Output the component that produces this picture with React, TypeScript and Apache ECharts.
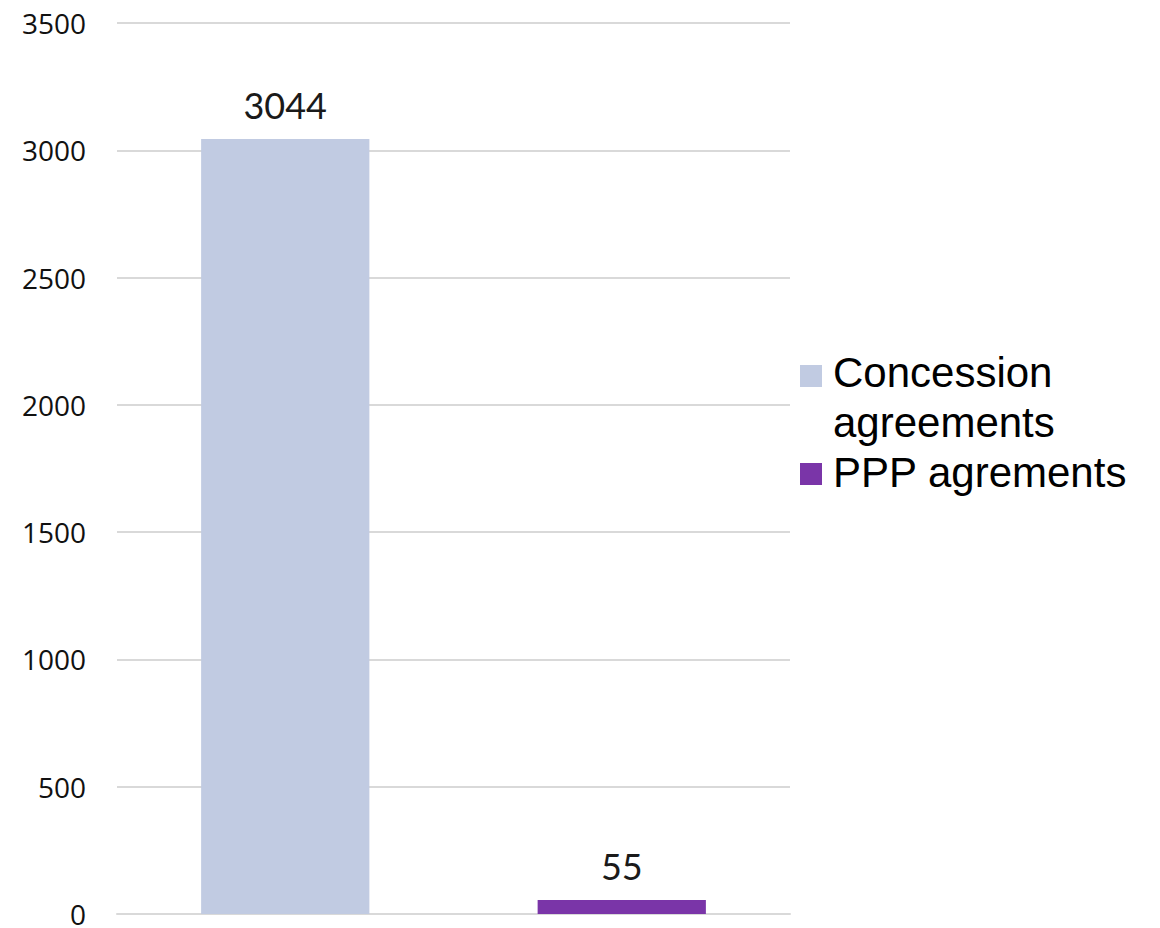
import React, { useEffect, useRef } from "react";
import * as echarts from "echarts";

const categories = ["Concession agreements", "PPP agrements"];
const concessionValues: (number | string)[] = [3044, "-"];
const pppValues: (number | string)[] = ["-", 55];
const yTicks = { min: 0, max: 3500, interval: 500 };
const legendNames = ["Concession\nagreements", "PPP agrements"];
const colors = ["#c1cbe2", "#7a35a8"];

export default function App() {
  const ref = useRef<HTMLDivElement>(null);
  useEffect(() => {
    if (!ref.current) return;
    const chart = echarts.init(ref.current, undefined, { renderer: "svg" });
    const labelStyle = {
      show: true,
      position: "top" as const,
      distance: 16,
      fontSize: 36,
      fontFamily: "Lato",
      color: "#1a1a1a",
    };
    chart.setOption({
      animation: false,
      backgroundColor: "#ffffff",
      grid: { left: 117, width: 673, top: 23, height: 895, containLabel: false },
      xAxis: {
        type: "category",
        data: categories,
        axisLine: { show: true, lineStyle: { color: "#d9d9d9", width: 2 } },
        axisTick: { show: false },
        axisLabel: { show: false },
      },
      yAxis: {
        type: "value",
        min: yTicks.min,
        max: yTicks.max,
        interval: yTicks.interval,
        axisLine: { show: false },
        axisTick: { show: false },
        splitLine: { lineStyle: { color: "#d9d9d9", width: 2 } },
        axisLabel: {
          fontSize: 28,
          fontFamily: "Open Sans",
          color: "#111111",
          margin: 31,
          formatter: (v: number) => String(v),
        },
      },
      series: [
        {
          name: categories[0],
          type: "bar",
          stack: "total",
          barWidth: "50%",
          data: concessionValues,
          itemStyle: { color: colors[0] },
          label: labelStyle,
        },
        {
          name: categories[1],
          type: "bar",
          stack: "total",
          barWidth: "50%",
          data: pppValues,
          itemStyle: { color: colors[1] },
          label: labelStyle,
        },
      ],
      graphic: [
        { type: "rect", shape: { x: 800, y: 365, width: 22, height: 22 }, style: { fill: colors[0] } },
        {
          type: "text",
          x: 833,
          y: 347,
          style: {
            text: legendNames[0],
            font: "42px 'Liberation Sans'",
            lineHeight: 50,
            fill: "#000000",
            verticalAlign: "top",
          },
        },
        { type: "rect", shape: { x: 800, y: 463, width: 22, height: 22 }, style: { fill: colors[1] } },
        {
          type: "text",
          x: 833,
          y: 447,
          style: {
            text: legendNames[1],
            font: "42px 'Liberation Sans'",
            lineHeight: 50,
            fill: "#000000",
            verticalAlign: "top",
          },
        },
      ],
    });
    return () => chart.dispose();
  }, []);
  return (
    <div
      ref={ref}
      style={{ position: "fixed", left: 0, top: 0, width: 1160, height: 928 }}
    />
  );
}
